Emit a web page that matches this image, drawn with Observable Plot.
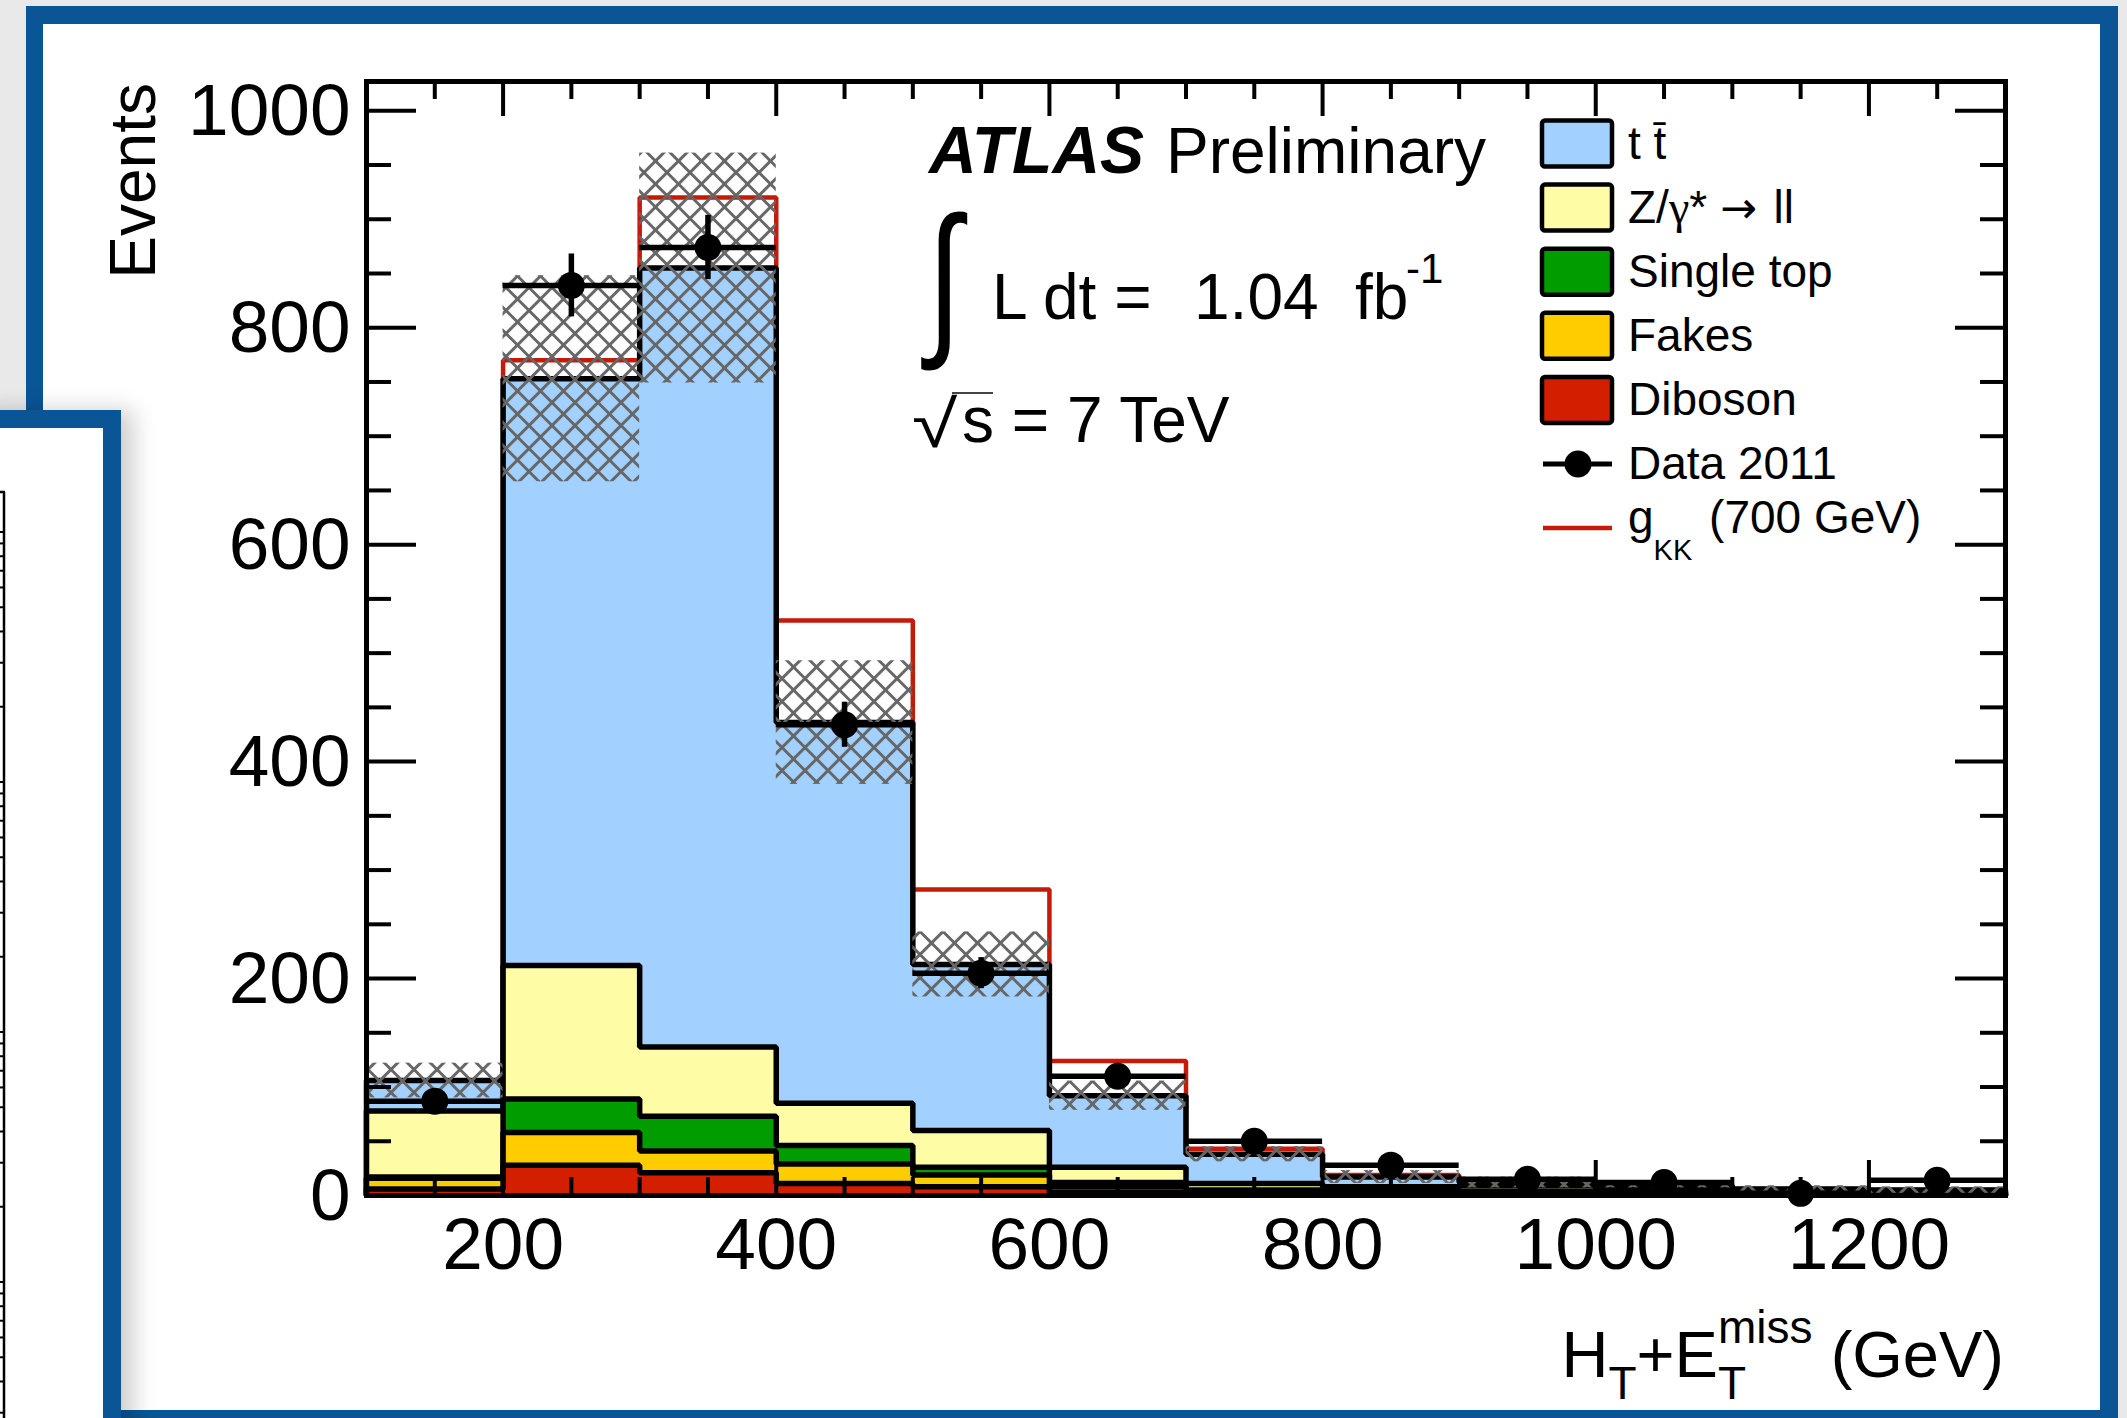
<!DOCTYPE html>
<html><head><meta charset="utf-8">
<script src="https://cdn.jsdelivr.net/npm/d3@7"></script>
<script src="https://cdn.jsdelivr.net/npm/@observablehq/plot@0.6"></script>
<style>
html,body{margin:0;padding:0;}
body{width:2127px;height:1418px;overflow:hidden;background:#e9e9e9;position:relative;font-family:"Liberation Sans",Arial,Helvetica,sans-serif;}
#outer{position:absolute;left:26px;top:6px;width:2092px;height:1450px;background:#0a5595;z-index:0;}
#outerIn{position:absolute;left:43px;top:24px;width:2057px;height:1386px;background:#fff;z-index:1;}
#chart{position:absolute;left:0;top:0;width:2127px;height:1418px;z-index:2;}
#inner{position:absolute;left:-30px;top:410px;width:151px;height:1100px;background:#0a5595;box-shadow:12px 0 22px rgba(0,0,0,0.2);z-index:4;}
#innerIn{position:absolute;left:0;top:18px;width:133px;height:1100px;background:#fff;}
</style></head>
<body>
<div id="outer"></div>
<div id="outerIn"></div>
<div id="chart"></div>
<div id="inner"><div id="innerIn"></div></div>
<script>
// ---------------- data ----------------
const binLow   = [100, 200, 300, 400, 500, 600, 700, 800, 900, 1000, 1100, 1200];
const binWidth = 100;
const ttbar     = [28, 541, 718, 351, 153, 66, 27, 9, 3, 3, 2, 2];
const zjets     = [61, 123, 64, 39, 34, 14, 6, 3, 5, 3, 1.5, 1.5];
const singleTop = [1, 31, 32, 17, 7, 4, 2, 2, 2, 1, 1, 0.5];
const fakes     = [10, 30, 20, 18, 11, 5, 2, 2, 1, 1, 1, 0.5];
const diboson   = [6, 28, 21, 11, 8, 3, 1, 1, 1, 1, 0.5, 0.5];
const gkkSignal = [0, 17, 65, 94, 69, 32, 5, 2, 1, 1, 0, 0];
const bkgUncertainty = [16, 95, 106, 57, 30, 13.5, 7, 6, 5, 2, 3, 3];
const data2011  = [87, 839, 874, 434, 205, 110, 50, 28, 15, 12, 2, 14];
const dataError = [9.3, 29, 29.6, 20.8, 14.3, 10.5, 7.1, 5.3, 3.9, 3.5, 1.4, 3.7];
const yTickValues = [0, 200, 400, 600, 800, 1000];
const xTickValues = [200, 400, 600, 800, 1000, 1200];
const legendLabels = ["t t\u0304", "Z/\u03B3* \u2192 ll", "Single top", "Fakes", "Diboson", "Data 2011", "g_KK (700 GeV)"];

// ---------------- layout ----------------
const W = 2127, H = 1418;
const mL = 366, mR = W - 2005, mT = 81, mB = H - 1195;
const frameW = W - mL - mR, frameH = H - mT - mB;
const FONT = '"Liberation Sans", Arial, Helvetica, sans-serif';
const LW = 5.5;

const comps = [
  {name: "Diboson", vals: diboson, color: "#d41e00"},
  {name: "Fakes", vals: fakes, color: "#ffcc00"},
  {name: "Single top", vals: singleTop, color: "#009c00"},
  {name: "Z", vals: zjets, color: "#fffca6"},
  {name: "ttbar", vals: ttbar, color: "#a3d1ff"}
];
let cum = binLow.map(() => 0);
const layers = comps.map(c => { cum = cum.map((v, i) => v + c.vals[i]); return {...c, top: cum.slice()}; });
const total = layers[layers.length - 1].top;
const withSignal = total.map((v, i) => v + gkkSignal[i]);

function steps(top) {
  const pts = [{x: binLow[0], y: 0}];
  top.forEach((v, i) => { pts.push({x: binLow[i], y: v}); pts.push({x: binLow[i] + binWidth, y: v}); });
  pts.push({x: binLow[binLow.length - 1] + binWidth, y: 0});
  return pts;
}
const rows = binLow.map((lo, i) => ({lo, hi: lo + binWidth, mid: lo + binWidth / 2,
  total: total[i], unc: bkgUncertainty[i], v: data2011[i], e: dataError[i]}));

const lineOpts = {x: "x", y: "y", strokeLinejoin: "miter", strokeLinecap: "butt"};
const marks = [];
[...layers].reverse().forEach((L, k) => {
  const pts = steps(L.top);
  marks.push(Plot.areaY(pts, {x: "x", y1: 0, y2: "y", fill: L.color}));
  if (k === 0) marks.push(Plot.line(steps(withSignal), {...lineOpts, stroke: "#c41a0a", strokeWidth: 4.5}));
  marks.push(Plot.line(pts, {...lineOpts, stroke: "black", strokeWidth: LW}));
});
marks.push(Plot.rect(rows, {x1: "lo", x2: "hi", y1: d => d.total - d.unc, y2: d => d.total + d.unc, fill: "url(#atlasHatch)"}));
marks.push(Plot.ruleY(rows, {y: "v", x1: "lo", x2: "hi", stroke: "black", strokeWidth: LW}));
marks.push(Plot.ruleX(rows, {x: "mid", y1: d => d.v - d.e, y2: d => d.v + d.e, stroke: "black", strokeWidth: LW}));
marks.push(Plot.dot(rows, {x: "mid", y: "v", r: 13.5, fill: "black", stroke: null}));

const yMinor = d3.range(50, 1027, 50).filter(v => v % 200);
const xMinor = d3.range(150, 1300, 50).filter(v => v % 200);
const tk = {stroke: "black", strokeWidth: 4};
marks.push(Plot.tickY(yTickValues, {y: d => d, insetRight: frameW - 50, ...tk}));
marks.push(Plot.tickY(yTickValues, {y: d => d, insetLeft: frameW - 50, ...tk}));
marks.push(Plot.tickY(yMinor, {y: d => d, insetRight: frameW - 25, ...tk}));
marks.push(Plot.tickY(yMinor, {y: d => d, insetLeft: frameW - 25, ...tk}));
marks.push(Plot.tickX(xTickValues, {x: d => d, insetTop: frameH - 35, ...tk}));
marks.push(Plot.tickX(xTickValues, {x: d => d, insetBottom: frameH - 35, ...tk}));
marks.push(Plot.tickX(xMinor, {x: d => d, insetTop: frameH - 18, ...tk}));
marks.push(Plot.tickX(xMinor, {x: d => d, insetBottom: frameH - 18, ...tk}));
marks.push(Plot.frame({stroke: "black", strokeWidth: 5}));
marks.push(Plot.text(yTickValues, {y: d => d, text: d => String(d), frameAnchor: "left", textAnchor: "end", dx: -16, dy: 1, fontSize: 73, fill: "black"}));
marks.push(Plot.text(xTickValues, {x: d => d, text: d => String(d), frameAnchor: "bottom", lineAnchor: "top", dy: 22, fontSize: 73, fill: "black"}));

const plot = Plot.plot({
  width: W, height: H,
  marginLeft: mL, marginRight: mR, marginTop: mT, marginBottom: mB,
  x: {domain: [100, 1300], axis: null},
  y: {domain: [0, 1027], axis: null},
  style: {background: "transparent", fontFamily: FONT, color: "black", overflow: "visible"},
  marks
});
document.getElementById("chart").appendChild(plot);

// hatch pattern
const svg = d3.select(plot);
const defs = svg.insert("defs", ":first-child");
const s = 23 / Math.SQRT2;
const pat = defs.append("pattern").attr("id", "atlasHatch").attr("patternUnits", "userSpaceOnUse")
  .attr("width", s).attr("height", s).attr("patternTransform", "rotate(45)");
pat.append("path").attr("d", `M0,${s/2}H${s}M${s/2},0V${s}`).attr("stroke", "#666").attr("stroke-width", 3).attr("fill", "none");

// ---------------- annotations ----------------
const ann = svg.append("g").attr("font-family", FONT).attr("fill", "black").attr("text-anchor", "start");
// y title
ann.append("text").attr("transform", "translate(155,83) rotate(-90)").attr("text-anchor", "end").attr("font-size", 64).text("Events");
// x title
const xt = ann.append("text").attr("x", 2004).attr("y", 1377).attr("text-anchor", "end").attr("font-size", 65);
xt.append("tspan").text("H");
xt.append("tspan").attr("font-size", 46).attr("dy", 22).text("T");
xt.append("tspan").attr("dy", -22).text("+E");
xt.append("tspan").attr("font-size", 46).attr("dy", 22).text("T");
xt.append("tspan").attr("font-size", 46).attr("dx", -28).attr("dy", -56).text("miss");
xt.append("tspan").attr("dy", 34).text(" (GeV)");
// ATLAS Preliminary
ann.append("text").attr("x", 929).attr("y", 173).attr("font-size", 66).attr("font-weight", "bold").attr("font-style", "italic").text("ATLAS");
ann.append("text").attr("x", 1166).attr("y", 173).attr("font-size", 64).text("Preliminary");
// integral
ann.append("text").attr("x", 927).attr("y", 335).attr("font-size", 168).attr("transform", "translate(927,0) scale(0.74,1) translate(-927,0)").text("\u222B");
ann.append("text").attr("x", 992).attr("y", 319).attr("font-size", 64).text("L dt =");
ann.append("text").attr("x", 1194).attr("y", 319).attr("font-size", 64).text("1.04");
ann.append("text").attr("x", 1355).attr("y", 319).attr("font-size", 64).text("fb");
ann.append("text").attr("x", 1406).attr("y", 283).attr("font-size", 42).text("-1");
// sqrt s
ann.append("text").attr("x", 912).attr("y", 447).attr("font-size", 66).attr("transform", "translate(912,0) scale(1.25,1) translate(-912,0)").text("\u221A");
ann.append("line").attr("x1", 952).attr("x2", 993).attr("y1", 393).attr("y2", 393).attr("stroke", "#444").attr("stroke-width", 1.8);
ann.append("text").attr("x", 962).attr("y", 442).attr("font-size", 64).text("s = 7 TeV");

// legend
const lg = ann.append("g");
const boxColors = ["#a3d1ff", "#fffca6", "#009c00", "#ffcc00", "#d41e00"];
legendLabels.forEach((lab, i) => {
  const cy = 143.5 + 64.1 * i;
  if (i < 5) {
    lg.append("rect").attr("x", 1542).attr("y", cy - 23).attr("width", 70).attr("height", 46).attr("rx", 3)
      .attr("fill", boxColors[i]).attr("stroke", "black").attr("stroke-width", 4.5);
  } else if (i === 5) {
    lg.append("line").attr("x1", 1543).attr("x2", 1612).attr("y1", cy).attr("y2", cy).attr("stroke", "black").attr("stroke-width", 5);
    lg.append("circle").attr("cx", 1578).attr("cy", cy).attr("r", 13.5).attr("fill", "black");
  } else {
    lg.append("line").attr("x1", 1543).attr("x2", 1612).attr("y1", cy).attr("y2", cy).attr("stroke", "#c41a0a").attr("stroke-width", 4.5);
  }
  if (i === 1) {
    const t = lg.append("text").attr("x", 1628).attr("y", cy + 15).attr("font-size", 46);
    const [zpart, rest] = lab.split("\u03B3");
    t.append("tspan").text(zpart);
    t.append("tspan").attr("font-family", '"Liberation Serif", serif').text("\u03B3");
    const [star, tail] = rest.split("\u2192");
    t.append("tspan").text(star);
    t.append("tspan").attr("font-family", '"DejaVu Sans", sans-serif').attr("font-size", 44).text("\u2192");
    t.append("tspan").attr("dx", 4).text(tail);
  } else if (i < 6) {
    lg.append("text").attr("x", 1628).attr("y", cy + 15).attr("font-size", 46).text(lab);
  } else {
    const [g, rest] = lab.split("_");
    const [kk, ...more] = rest.split(" ");
    const t = lg.append("text").attr("x", 1628).attr("y", cy + 5).attr("font-size", 46);
    t.append("tspan").text(g);
    t.append("tspan").attr("font-size", 29).attr("dy", 27).text(kk);
    t.append("tspan").attr("dy", -27).attr("dx", 4).text(" " + more.join(" "));
  }
});

// ---------------- partial window on the left (decoration) ----------------
const innerSvg = d3.select("body").append("svg").style("position", "absolute").style("left", "0px").style("top", "0px")
  .style("z-index", 5).attr("width", 12).attr("height", H);
innerSvg.append("line").attr("x1", 4).attr("x2", 4).attr("y1", 492).attr("y2", H).attr("stroke", "black").attr("stroke-width", 2.5);
innerSvg.append("line").attr("x1", 0).attr("x2", 5).attr("y1", 492).attr("y2", 492).attr("stroke", "black").attr("stroke-width", 2.5);
const logS = d3.scaleLog().domain([0.01, 100]).range([1532, 532]);
logS.ticks().map(v => logS(v)).filter(y => y > 495 && y < H).forEach(y => {
  innerSvg.append("line").attr("x1", 0).attr("x2", 4).attr("y1", y).attr("y2", y).attr("stroke", "black").attr("stroke-width", 2);
});
</script>
</body></html>
